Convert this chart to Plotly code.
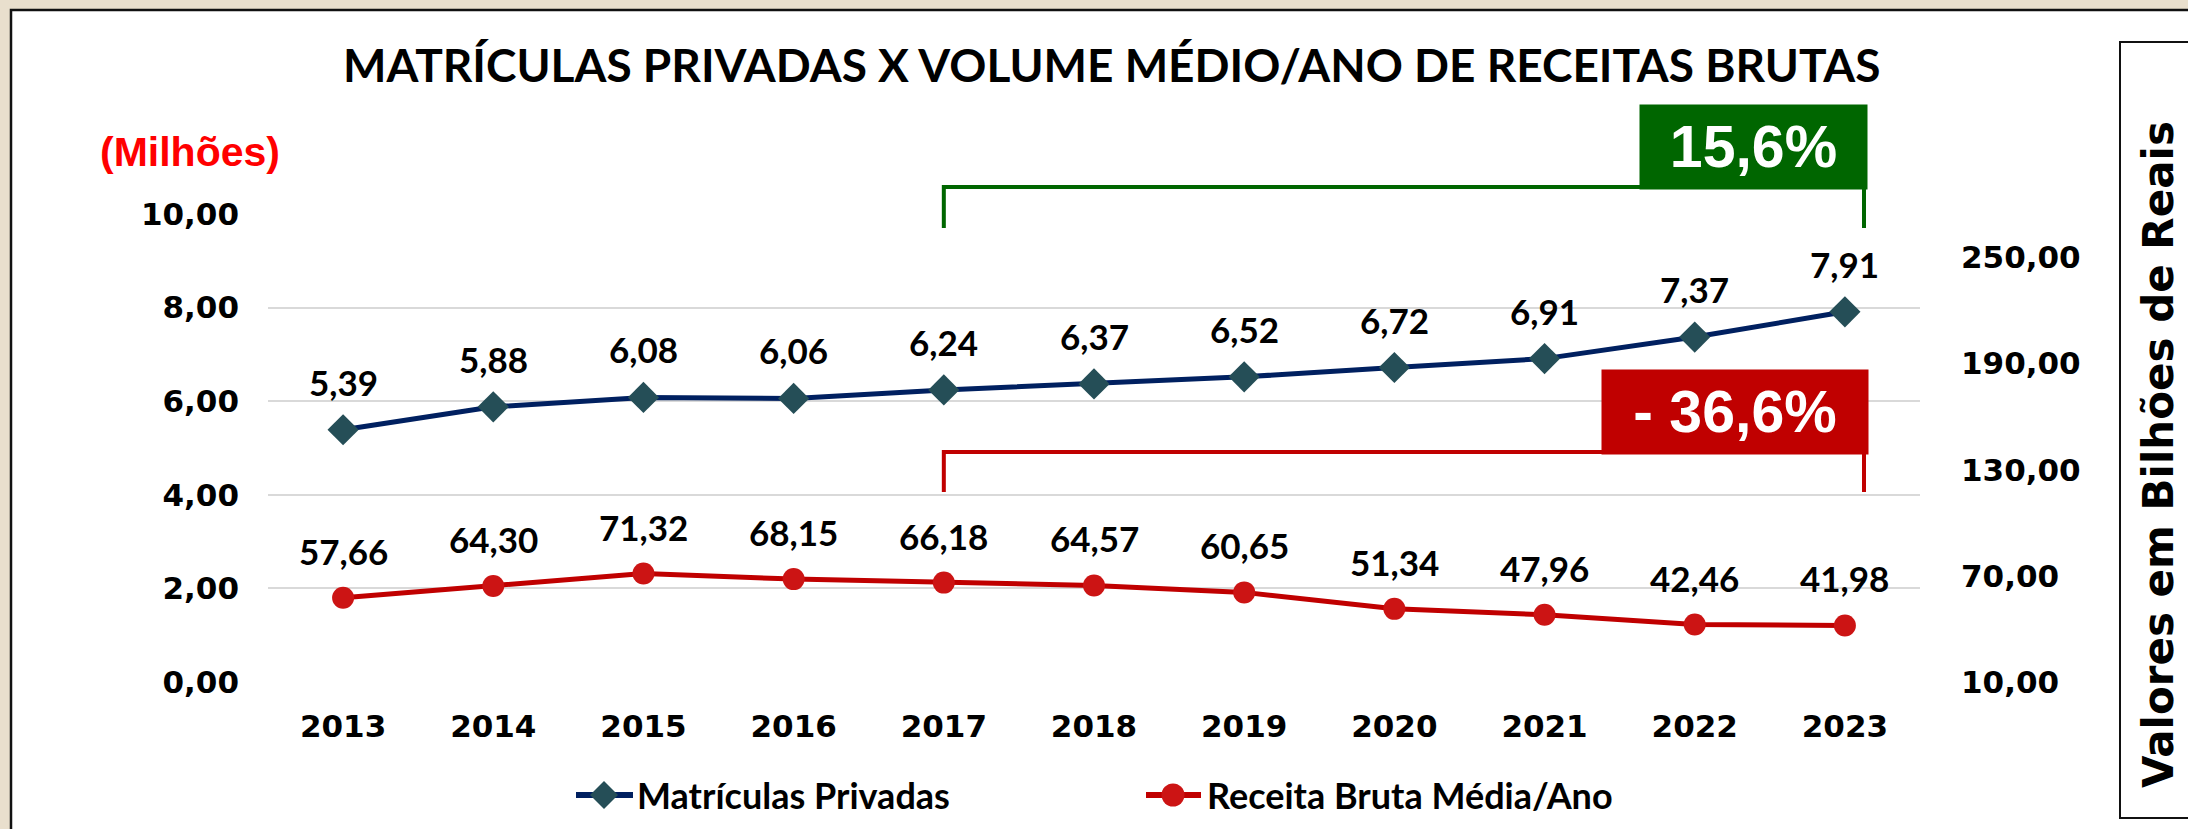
import plotly.graph_objects as go

# ---- data -------------------------------------------------------------
years = [2013, 2014, 2015, 2016, 2017, 2018, 2019, 2020, 2021, 2022, 2023]
matriculas = [5.39, 5.88, 6.08, 6.06, 6.24, 6.37, 6.52, 6.72, 6.91, 7.37, 7.91]   # milhões
receita = [57.66, 64.30, 71.32, 68.15, 66.18, 64.57, 60.65, 51.34, 47.96, 42.46, 41.98]  # R$ bilhões
left_ticks = [0, 2, 4, 6, 8, 10]
right_ticks = [10, 70, 130, 190, 250]
var_matriculas = "15,6%"
var_receita = "- 36,6%"

# ---- canvas geometry (pixels) ----------------------------------------
W, H = 2188, 829
L, R, T, B = 268, 1920, 214, 682


def fx(px):
    return (px - L) / (R - L)


def fy(py):
    return (B - py) / (B - T)


def year_px(yr):
    return L + (yr - (years[0] - 0.5)) / len(years) * (R - L)


NAVY = "#002060"
DIAMOND = "#254E57"
RED_LINE = "#C00000"
RED_DOT = "#CC1414"
GREEN = "#006600"
CAL = "Lato"
TICK_FONT = dict(family="DejaVu Sans", size=31, color="black", weight="bold")

fig = go.Figure()

fig.add_trace(go.Scatter(
    x=years, y=matriculas, mode="lines+markers", name="Matrículas Privadas",
    line=dict(color=NAVY, width=5),
    marker=dict(symbol="diamond", size=24, color=DIAMOND),
    showlegend=False, cliponaxis=False,
))
fig.add_trace(go.Scatter(
    x=years, y=receita, mode="lines+markers", name="Receita Bruta Média/Ano",
    line=dict(color=RED_LINE, width=5),
    marker=dict(symbol="circle", size=22, color=RED_DOT),
    yaxis="y2", showlegend=False, cliponaxis=False,
))

annotations = []


def note(px, py, text, font, **kw):
    d = dict(x=fx(px), y=fy(py), xref="paper", yref="paper", text=text,
             showarrow=False, xanchor="center", yanchor="middle", font=font)
    d.update(kw)
    annotations.append(d)


# value labels above each point
label_font = dict(family=CAL, size=35, color="black", weight="bold")
for yr, v in zip(years, matriculas):
    annotations.append(dict(
        x=yr, y=v, xref="x", yref="y", text=f"{v:.2f}".replace(".", ","),
        showarrow=False, yshift=48, xanchor="center", yanchor="middle", font=label_font))
for yr, v in zip(years, receita):
    annotations.append(dict(
        x=yr, y=v, xref="x", yref="y2", text=f"{v:.2f}".replace(".", ","),
        showarrow=False, yshift=47, xanchor="center", yanchor="middle", font=label_font))

# title and unit notes
note(1112, 64, "MATRÍCULAS PRIVADAS X VOLUME MÉDIO/ANO DE RECEITAS BRUTAS",
     dict(family=CAL, size=46, color="black", weight="bold"))
note(190, 152, "(Milhões)",
     dict(family="Liberation Sans", size=41, color="#FF0000", weight="bold"))
note(2158, 455, "Valores em Bilhões de Reais",
     dict(family="DejaVu Sans", size=42, color="black", weight="bold"), textangle=-90)

# growth badges (text on a filled box, drawn over the brackets)
note(1753.5, 147, var_matriculas,
     dict(family="Liberation Sans", size=59, color="white", weight="bold"),
     bgcolor=GREEN, width=227, height=84, borderpad=0, valign="middle")
note(1735, 412, var_receita,
     dict(family="Liberation Sans", size=59, color="white", weight="bold"),
     bgcolor=RED_LINE, width=266, height=84, borderpad=0, valign="middle")

# legend text
legend_font = dict(family=CAL, size=36, color="black", weight="bold")
LY = 795
note(635, LY, "Matrículas Privadas", legend_font, xanchor="left")
note(1205, LY, "Receita Bruta Média/Ano", legend_font, xanchor="left")

shapes = []
# white chart panel on the parchment background
shapes.append(dict(type="rect", xref="paper", yref="paper",
                   x0=fx(11), x1=fx(2200), y0=fy(10), y1=fy(845),
                   fillcolor="white", line=dict(color="#111111", width=2.5), layer="below"))
# framed box for the right-axis title
shapes.append(dict(type="rect", xref="paper", yref="paper",
                   x0=fx(2120), x1=fx(2200), y0=fy(42), y1=fy(818),
                   fillcolor="white", line=dict(color="#111111", width=2), layer="below"))

x17 = year_px(2017)
x_end = 1864


def bracket(y_top, y_bottom, color):
    path = (f"M{fx(x17)},{fy(y_bottom)} L{fx(x17)},{fy(y_top)} "
            f"L{fx(x_end)},{fy(y_top)} L{fx(x_end)},{fy(y_bottom)}")
    return dict(type="path", xref="paper", yref="paper", path=path,
                line=dict(color=color, width=4), layer="above")


shapes.append(bracket(187, 228, GREEN))
shapes.append(bracket(452, 492, RED_LINE))

# hand-drawn legend keys
shapes.append(dict(type="line", xref="paper", yref="paper",
                   x0=fx(576), x1=fx(633), y0=fy(LY), y1=fy(LY),
                   line=dict(color=NAVY, width=6)))
cx, d = 604, 14
shapes.append(dict(type="path", xref="paper", yref="paper",
                   path=(f"M{fx(cx - d)},{fy(LY)} L{fx(cx)},{fy(LY - d)} "
                         f"L{fx(cx + d)},{fy(LY)} L{fx(cx)},{fy(LY + d)} Z"),
                   fillcolor=DIAMOND, line=dict(width=0)))
shapes.append(dict(type="line", xref="paper", yref="paper",
                   x0=fx(1146), x1=fx(1201), y0=fy(LY), y1=fy(LY),
                   line=dict(color=RED_LINE, width=6)))
cx, r = 1173, 11.5
shapes.append(dict(type="circle", xref="paper", yref="paper",
                   x0=fx(cx - r), x1=fx(cx + r), y0=fy(LY + r), y1=fy(LY - r),
                   fillcolor=RED_DOT, line=dict(width=0)))

fig.update_layout(
    width=W, height=H,
    margin=dict(l=L, r=W - R, t=T, b=H - B),
    paper_bgcolor="#E9DFCD",
    plot_bgcolor="rgba(0,0,0,0)",
    separators=",.",
    showlegend=False,
    annotations=annotations,
    shapes=shapes,
    xaxis=dict(
        range=[years[0] - 0.5, years[-1] + 0.5],
        tickvals=years, ticktext=[str(y) for y in years],
        showgrid=False, zeroline=False, showline=False, ticks="",
        tickfont=TICK_FONT, ticklabelstandoff=23,
    ),
    yaxis=dict(
        range=[0, 10], tickvals=left_ticks, tickformat=".2f",
        showgrid=True, gridcolor="#D9D9D9", gridwidth=2,
        zeroline=False, showline=False, ticks="",
        tickfont=TICK_FONT, ticklabelstandoff=28,
    ),
    yaxis2=dict(
        range=[10, 274.5], tickvals=right_ticks, tickformat=".2f",
        overlaying="y", side="right", showgrid=False, zeroline=False,
        showline=False, ticks="", tickfont=TICK_FONT, ticklabelstandoff=40,
    ),
)

fig.write_html("out.html")
